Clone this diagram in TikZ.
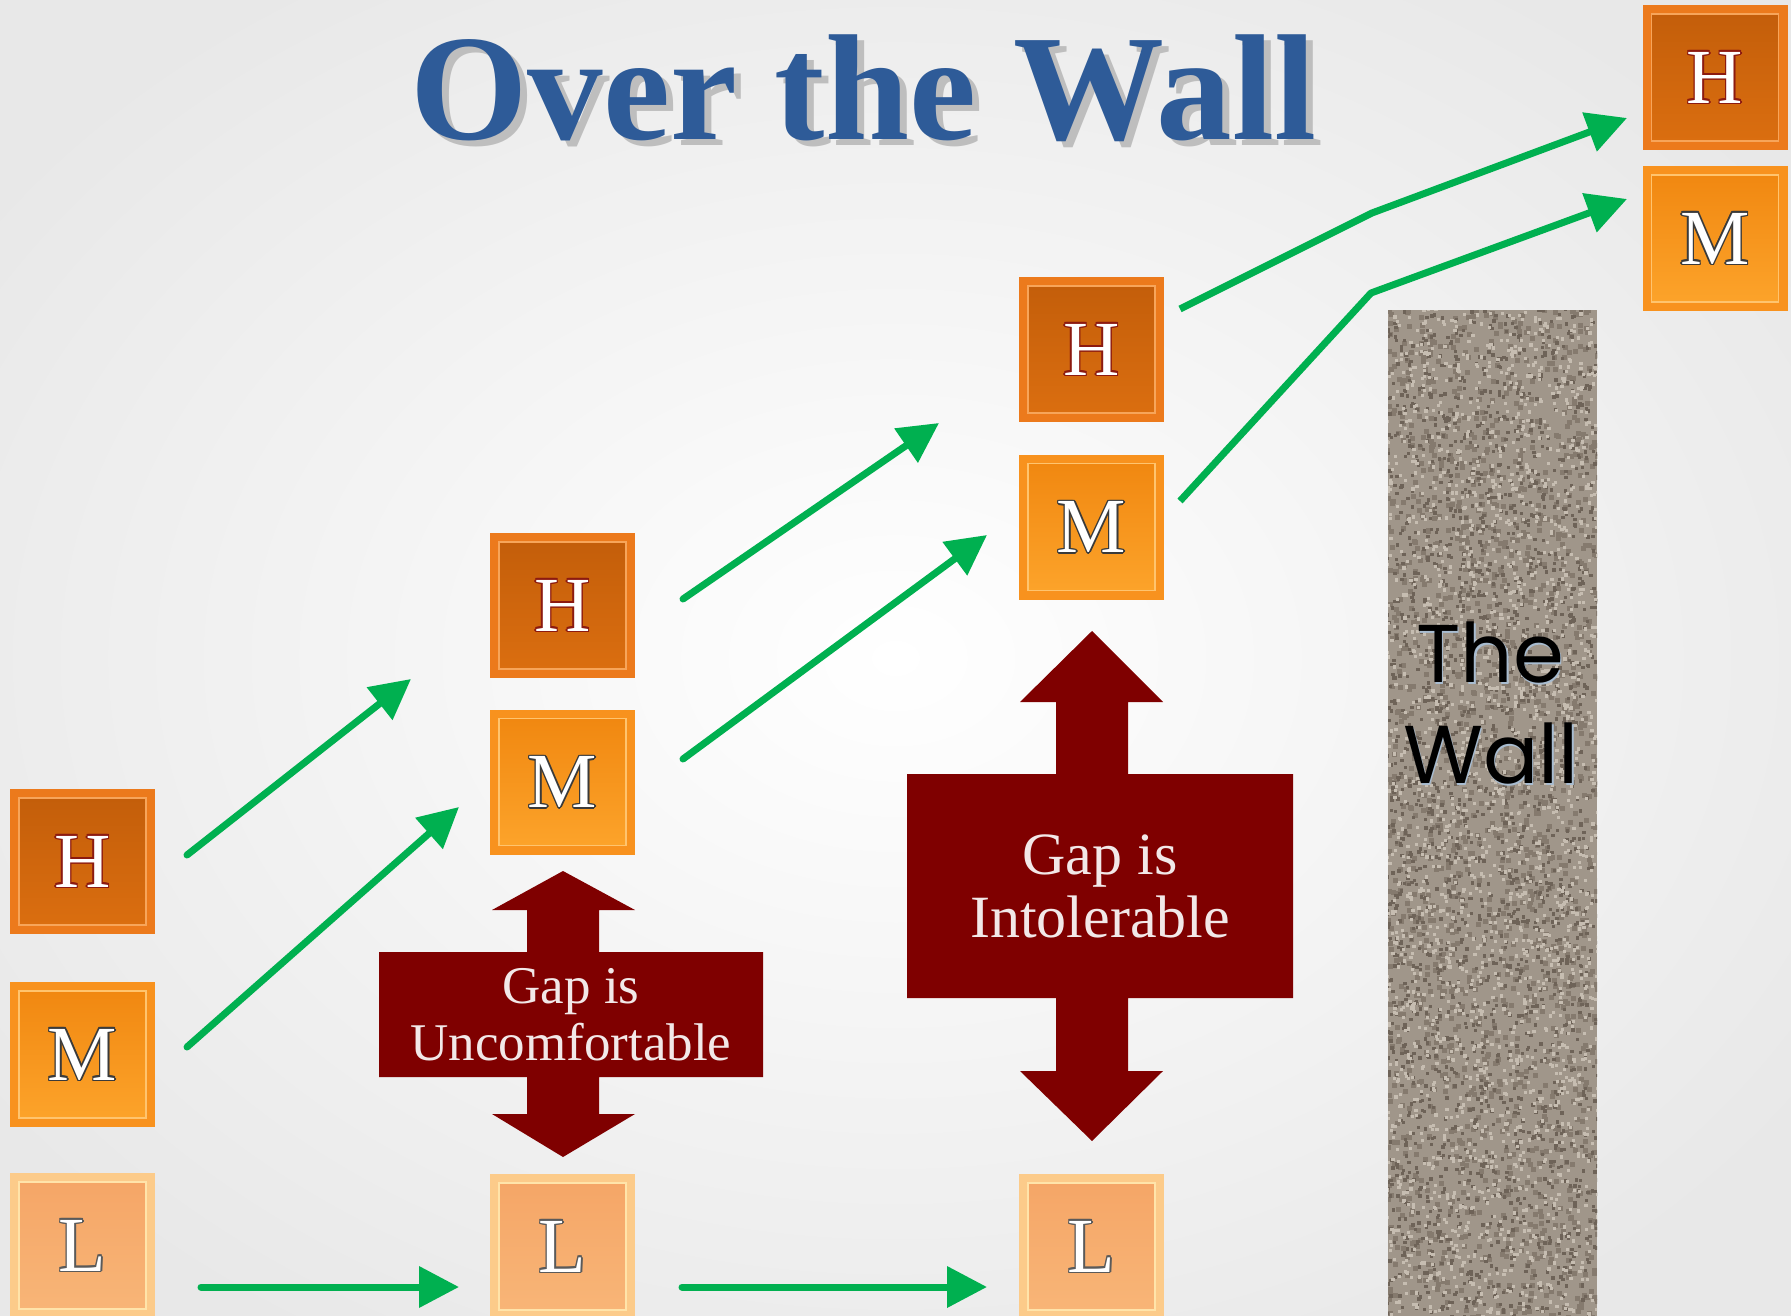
\documentclass[tikz,border=0pt]{standalone}
\usepackage{fontspec}
\setmainfont{Liberation Serif}
\newfontfamily\wallfont{Poppins}
\usetikzlibrary{arrows.meta}
\definecolor{titleBlue}{HTML}{2E5B98}
\definecolor{titleShadow}{HTML}{BEBEBE}
\definecolor{arrowGreen}{HTML}{00B050}
\definecolor{gapRed}{HTML}{7F0000}
\definecolor{gapText}{HTML}{F2E8E8}
\definecolor{hOut}{HTML}{EC7A1C}
\definecolor{hInTop}{HTML}{C25D0A}
\definecolor{hInBot}{HTML}{DC6F10}
\definecolor{hLine}{HTML}{F7A55A}
\definecolor{mOut}{HTML}{F8921E}
\definecolor{mInTop}{HTML}{F0860F}
\definecolor{mInBot}{HTML}{FDA52C}
\definecolor{mLine}{HTML}{FFC46E}
\definecolor{lOut}{HTML}{FCCB8A}
\definecolor{lInTop}{HTML}{F5A566}
\definecolor{lInBot}{HTML}{F8B678}
\definecolor{lLine}{HTML}{FFE4AA}
\definecolor{hEdge}{HTML}{8C1A10}
\definecolor{mEdge}{HTML}{3A3A3A}
\definecolor{lEdge}{HTML}{5A5A5A}
\definecolor{wallBase}{HTML}{A0968A}
\definecolor{wallDark}{HTML}{6E6358}
\definecolor{wallMid}{HTML}{857A6E}
\definecolor{wallLight}{HTML}{C6BDB1}
\definecolor{wallEdge}{HTML}{A8BCD0}
\newcommand\outletter[2]{%
  \makebox[0pt][l]{\color{#1}\hspace*{-1.5pt}#2}%
  \makebox[0pt][l]{\color{#1}\hspace*{1.5pt}#2}%
  \makebox[0pt][l]{\color{#1}\raisebox{1.5pt}{#2}}%
  \makebox[0pt][l]{\color{#1}\raisebox{-1.5pt}{#2}}%
  \makebox[0pt][l]{\color{#1}\hspace*{-1.1pt}\raisebox{1.1pt}{#2}}%
  \makebox[0pt][l]{\color{#1}\hspace*{1.1pt}\raisebox{1.1pt}{#2}}%
  \makebox[0pt][l]{\color{#1}\hspace*{-1.1pt}\raisebox{-1.1pt}{#2}}%
  \makebox[0pt][l]{\color{#1}\hspace*{1.1pt}\raisebox{-1.1pt}{#2}}%
  {\color{white}#2}}
\newcommand\speckles[3]{% count, size, color
  \begin{scope}[fill=#3]
  \foreach \i in {1,...,#1}{
    \pgfmathsetmacro\px{1385+212*rnd}\pgfmathsetmacro\py{306+1010*rnd}
    \fill (\px,\py) rectangle ++(#2,#2);
  }
  \end{scope}}
\tikzset{
  lvl/.style={rectangle, minimum width=145pt, minimum height=145pt, inner sep=0pt, outer sep=0pt,
    font=\fontsize{78}{78}\selectfont},
  bevel/.style n args={3}{fill=#1, path picture={
      \shade[top color=#2, bottom color=#3]
        ([shift={(9pt,-9pt)}]path picture bounding box.north west) rectangle
        ([shift={(-9pt,9pt)}]path picture bounding box.south east);
    }},
  bevline/.style={draw=#1, line width=1.3pt},
  hbox/.style={lvl, bevel={hOut}{hInTop}{hInBot}},
  mbox/.style={lvl, bevel={mOut}{mInTop}{mInBot}},
  lbox/.style={lvl, bevel={lOut}{lInTop}{lInBot}},
  garrow/.style={draw=arrowGreen, line width=7pt, line cap=round, line join=round,
    -{Triangle[length=40pt,width=40pt]}},
  gbent/.style={draw=arrowGreen, line width=7pt, line cap=butt, line join=round,
    -{Triangle[length=40pt,width=40pt]}},
  gapshape/.style={fill=gapRed},
  gaptext/.style={rectangle, inner sep=0pt, text=gapText, align=center},
  titlefont/.style={font=\bfseries\fontsize{151}{151}\selectfont, inner sep=0pt, anchor=base},
  walltext/.style={font=\wallfont\fontsize{82}{82}\selectfont, inner sep=0pt, anchor=base},
}
\begin{document}
\begin{tikzpicture}[x=1pt,y=-1pt]
\useasboundingbox (0,0) rectangle (1791,1316);
\clip (0,0) rectangle (1791,1316);
% background
\shade[inner color=white, outer color=black!9] (-200,-150) rectangle (1991,1466);

% title
\node[titlefont, text=titleShadow] (titleshadow) at (870,146) {Over the Wall};
\node[titlefont, text=titleBlue] (title) at (863,140) {Over the Wall};

% the wall
\begin{scope}
  \clip (1388,310) rectangle (1597,1316);
  \fill[wallBase] (1388,310) rectangle (1597,1316);
  \pgfmathsetseed{11}
  \speckles{1600}{5}{wallMid}
  \speckles{2200}{3.4}{wallDark}
  \speckles{2200}{3.2}{wallLight}
\end{scope}
\node[rectangle, minimum width=209pt, minimum height=1006pt, inner sep=0pt] (wall) at (1492.5,813) {};
\node[walltext, text=wallEdge] (wtA) at (1491.5,684) {The};
\node[walltext, text=wallEdge] (wtB) at (1492.5,785) {Wall};
\node[walltext, text=black] (wt1) at (1490,682) {The};
\node[walltext, text=black] (wt2) at (1491,783) {Wall};

% level boxes
\node[hbox] (h1) at (82.5,861.5) {\outletter{hEdge}{H}};
\node[mbox] (m1) at (82.5,1054.5) {\outletter{mEdge}{M}};
\node[lbox] (l1) at (82.5,1245.5) {\outletter{lEdge}{L}};
\node[hbox] (h2) at (562.5,605.5) {\outletter{hEdge}{H}};
\node[mbox] (m2) at (562.5,782) {\outletter{mEdge}{M}};
\node[lbox] (l2) at (562.5,1246.5) {\outletter{lEdge}{L}};
\node[hbox] (h3) at (1091.5,349.5) {\outletter{hEdge}{H}};
\node[mbox] (m3) at (1091.5,527) {\outletter{mEdge}{M}};
\node[lbox] (l3) at (1091.5,1246.5) {\outletter{lEdge}{L}};
\node[hbox] (h4) at (1715,77.5) {\outletter{hEdge}{H}};
\node[mbox] (m4) at (1715,238.5) {\outletter{mEdge}{M}};
\foreach \b/\c in {h1/hLine,m1/mLine,l1/lLine,h2/hLine,m2/mLine,l2/lLine,h3/hLine,m3/mLine,l3/lLine,h4/hLine,m4/mLine}{
  \draw[bevline=\c] ([shift={(9pt,-9pt)}]\b.north west) rectangle ([shift={(-9pt,9pt)}]\b.south east);
}

% gap is uncomfortable
\fill[gapshape] (563,871) -- (635,910) -- (599,910) -- (599,952) -- (763,952) -- (763,1077)
  -- (599,1077) -- (599,1114) -- (635,1114) -- (563,1157) -- (492,1114) -- (527,1114)
  -- (527,1077) -- (379,1077) -- (379,952) -- (527,952) -- (527,910) -- (492,910) -- cycle;
\node[gaptext, font=\fontsize{53}{57}\selectfont] (gapA) at (571,1014.5) {Gap is\\Uncomfortable};

% gap is intolerable
\fill[gapshape] (1092,631) -- (1163,702) -- (1128,702) -- (1128,774) -- (1293,774) -- (1293,998)
  -- (1128,998) -- (1128,1071) -- (1163,1071) -- (1092,1141) -- (1020,1071) -- (1056,1071)
  -- (1056,998) -- (907,998) -- (907,774) -- (1056,774) -- (1056,702) -- (1020,702) -- cycle;
\node[gaptext, font=\fontsize{60}{63}\selectfont] (gapB) at (1100,886) {Gap is\\Intolerable};

% arrow end points
\coordinate (a1s) at (187,855);  \coordinate (a1e) at (411,679);
\coordinate (a2s) at (187,1047); \coordinate (a2e) at (459,807);
\coordinate (a3s) at (201,1287); \coordinate (a3e) at (459,1287);
\coordinate (a4s) at (683,599);  \coordinate (a4e) at (939,423);
\coordinate (a5s) at (683,759);  \coordinate (a5e) at (987,535);
\coordinate (a6s) at (682,1287); \coordinate (a6e) at (987,1287);
\coordinate (a7s) at (1180,309); \coordinate (a7b) at (1372,213); \coordinate (a7e) at (1627,118);
\coordinate (a8s) at (1180,501); \coordinate (a8b) at (1371,293); \coordinate (a8e) at (1627,199);

\draw[garrow] (a1s) -- (a1e);
\draw[garrow] (a2s) -- (a2e);
\draw[garrow] (a3s) -- (a3e);
\draw[garrow] (a4s) -- (a4e);
\draw[garrow] (a5s) -- (a5e);
\draw[garrow] (a6s) -- (a6e);
\draw[gbent] (a7s) -- (a7b) -- (a7e);
\draw[gbent] (a8s) -- (a8b) -- (a8e);
\end{tikzpicture}
\end{document}
